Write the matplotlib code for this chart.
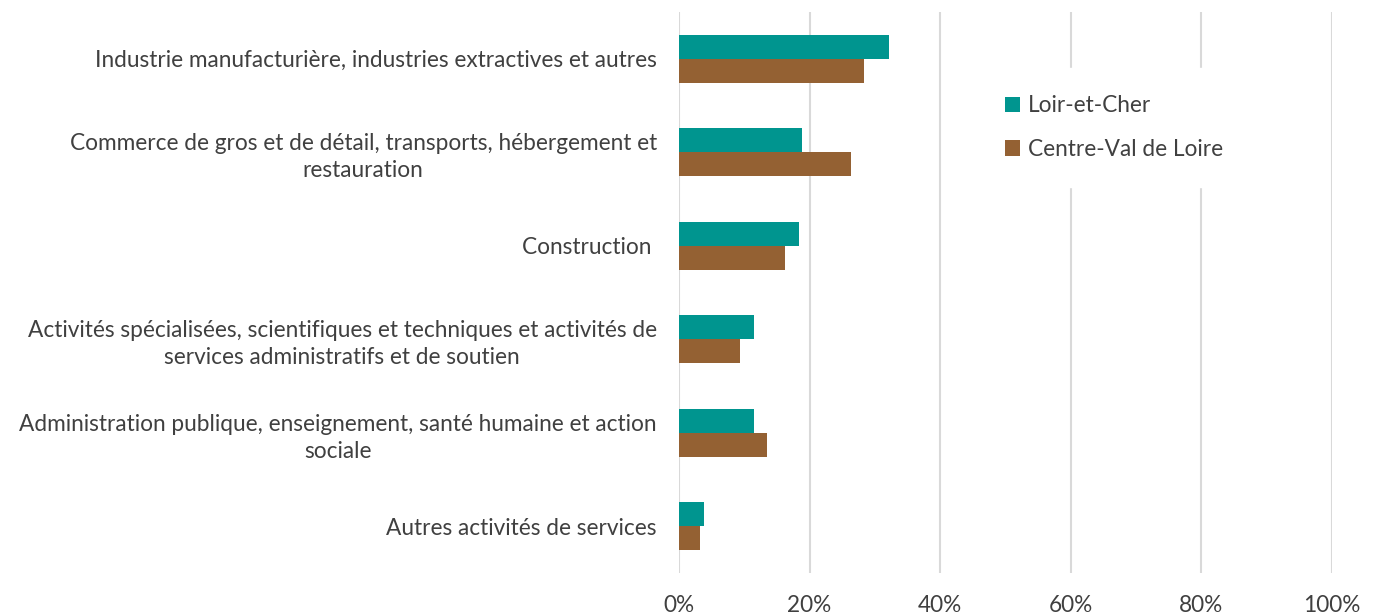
import numpy as np
import matplotlib.pyplot as plt

categories = [
    "Industrie manufacturière, industries extractives et autres",
    "Commerce de gros et de détail, transports, hébergement et\nrestauration",
    "Construction ",
    "Activités spécialisées, scientifiques et techniques et activités de\nservices administratifs et de soutien",
    "Administration publique, enseignement, santé humaine et action\nsociale",
    "Autres activités de services",
]
loir_et_cher = [32.2, 18.9, 18.4, 11.5, 11.5, 3.8]
centre_val = [28.3, 26.4, 16.2, 9.4, 13.5, 3.2]
series_names = ["Loir-et-Cher", "Centre-Val de Loire"]

plt.rcParams['font.family'] = ['Lato', 'DejaVu Sans']
text_col = '#404040'
fs = 16.3

fig = plt.figure(figsize=(13.75, 6.16), dpi=100)
ax = fig.add_axes([679/1375, 1 - 573/616, (1332-679)/1375, (573-12)/616])

y = np.arange(len(categories))
h = 0.257
ax.barh(y - h/2, loir_et_cher, height=h, color='#00958f', label=series_names[0], zorder=3)
ax.barh(y + h/2, centre_val, height=h, color='#946133', label=series_names[1], zorder=3)

ax.set_ylim(len(categories) - 0.5, -0.5)
ax.set_xlim(0, 100)
ax.set_xticks(np.arange(0, 101, 20))
ax.set_xticklabels([f"{v}%" for v in range(0, 101, 20)], fontsize=fs, color=text_col)
ax.set_yticks(y)
ax.set_yticklabels(categories, fontsize=fs, color=text_col, multialignment='center',
                   linespacing=1.35)
ax.tick_params(axis='both', length=0)
ax.tick_params(axis='y', pad=16)
ax.tick_params(axis='x', pad=16)
ax.xaxis.grid(True, color='#d9d9d9', linewidth=1.5, zorder=0)
for s in ax.spines.values():
    s.set_visible(False)

leg = ax.legend(loc='upper left', bbox_to_anchor=(0.441, 0.92), frameon=True,
                fontsize=fs, handlelength=0.65, handleheight=0.65, handletextpad=0.35,
                labelspacing=1.0, borderpad=1.2, labelcolor=text_col)
leg.get_frame().set_facecolor('white')
leg.get_frame().set_edgecolor('white')
leg.get_frame().set_alpha(1)
leg.set_zorder(5)

fig.savefig('out.png', dpi=100)
